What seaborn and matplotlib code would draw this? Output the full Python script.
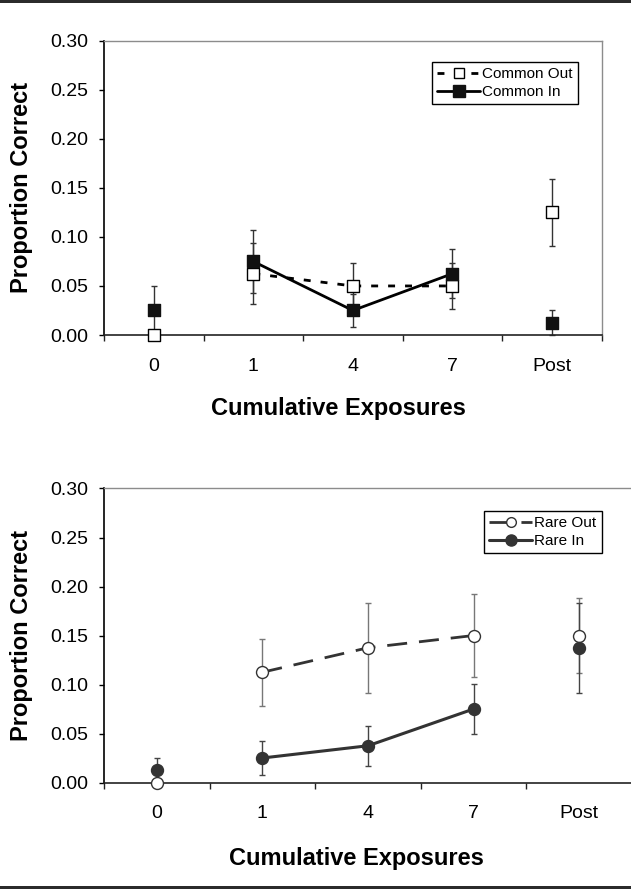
import numpy as np
import pandas as pd
import matplotlib
matplotlib.use("Agg")
import matplotlib.pyplot as plt
from matplotlib.lines import Line2D
from matplotlib.patches import Rectangle
from matplotlib.ticker import FixedLocator, FormatStrFormatter
import seaborn as sns

# Exposure conditions along the x axis
categories = ["0", "1", "4", "7", "Post"]
y_ticks = [0.00, 0.05, 0.10, 0.15, 0.20, 0.25, 0.30]

# Common words: proportion correct and error (+/-)
common_out = [0.000, 0.0625, 0.050, 0.050, 0.125]
common_out_err = [0.000, 0.031, 0.023, 0.023, 0.034]
common_in = [0.025, 0.075, 0.025, 0.0625, 0.0125]
common_in_err = [0.025, 0.032, 0.017, 0.025, 0.0125]

# Rare words: proportion correct and error (+/-)
rare_out = [0.000, 0.1125, 0.1375, 0.150, 0.150]
rare_out_err = [0.000, 0.034, 0.046, 0.042, 0.038]
rare_in = [0.0125, 0.025, 0.0375, 0.075, 0.1375]
rare_in_err = [0.012, 0.017, 0.0205, 0.026, 0.046]

# Only the training sessions (1, 4, 7) are joined by lines
connected = ["1", "4", "7"]

sns.set_theme(style="ticks")
plt.rcParams["font.family"] = ["Liberation Sans", "DejaVu Sans"]
plt.rcParams["text.color"] = "black"
plt.rcParams["axes.labelcolor"] = "black"
plt.rcParams["xtick.color"] = "black"
plt.rcParams["ytick.color"] = "black"

W, H = 631, 889
fig = plt.figure(figsize=(W / 100, H / 100), dpi=100)
ax_top = fig.add_axes([104 / W, (H - 335) / H, 497.7 / W, 294.3 / H])
ax_bot = fig.add_axes([104 / W, (H - 782.5) / H, 528 / W, 294 / H])


def series_frame(values, errors):
    df = pd.DataFrame({"cond": categories, "val": values, "err": errors})
    df["pos"] = np.arange(len(categories))
    return df


def draw_series(ax, values, errors, marker, face, edge, line_color, ls, lw,
                err_color, z):
    df = series_frame(values, errors)
    has_err = df["err"] > 0
    ax.errorbar(df.loc[has_err, "pos"], df.loc[has_err, "val"],
                yerr=df.loc[has_err, "err"], fmt="none", ecolor=err_color,
                elinewidth=1.0, capsize=2.2, capthick=1.0, zorder=2,
                clip_on=False)
    seg = df[df["cond"].isin(connected)]
    sns.lineplot(data=seg, x="pos", y="val", ax=ax, color=line_color,
                 linewidth=lw, linestyle=ls, sort=False, estimator=None,
                 errorbar=None, zorder=3, legend=False)
    sns.scatterplot(data=df, x="pos", y="val", ax=ax, marker=marker,
                    s=8.6 ** 2, color=face, edgecolor=edge, linewidth=1.0,
                    zorder=z, clip_on=False, legend=False)


def style_axes(ax):
    ax.set_xlim(-0.5, len(categories) - 0.5)
    ax.set_ylim(0, 0.30)
    ax.set_xticks(np.arange(len(categories)))
    ax.set_xticklabels(categories)
    ax.xaxis.set_minor_locator(FixedLocator(np.arange(len(categories) + 1) - 0.5))
    ax.set_yticks(y_ticks)
    ax.yaxis.set_major_formatter(FormatStrFormatter("%.2f"))
    ax.tick_params(axis="x", which="major", length=0, pad=16.5,
                   labelsize=14, colors="black")
    ax.tick_params(axis="x", which="minor", length=4.3, width=1.0,
                   direction="out", color="#222222", bottom=True)
    ax.tick_params(axis="y", which="major", length=3.5, width=1.0,
                   direction="out", pad=8, labelsize=14, colors="black")
    for side in ("top", "right"):
        ax.spines[side].set_visible(True)
        ax.spines[side].set_color("#8c8c8c")
        ax.spines[side].set_linewidth(1.0)
    ax.spines["left"].set_color("black")
    ax.spines["left"].set_linewidth(1.2)
    ax.spines["bottom"].set_color("#222222")
    ax.spines["bottom"].set_linewidth(1.2)
    ax.set_xlabel("Cumulative Exposures", fontsize=17, fontweight="bold",
                  va="top", color="black")
    ax.set_ylabel("Proportion Correct", fontsize=17, fontweight="bold",
                  color="black")
    ax.set_facecolor("white")


# Common words panel
draw_series(ax_top, common_out, common_out_err, "s", "white", "black",
            "black", (0, (2.5, 3.6)), 2.0, "#333333", 4)
draw_series(ax_top, common_in, common_in_err, "s", "#111111", "#111111",
            "black", "-", 2.0, "#333333", 5)
style_axes(ax_top)
ax_top.xaxis.set_label_coords(0.471, -0.212)
ax_top.yaxis.set_label_coords((33.5 - 104) / 497.7, 0.5)

top_handles = [
    Line2D([0], [0], color="black", lw=2.0, linestyle=(0, (2.5, 3.6)),
           marker="s", markersize=7, markerfacecolor="white",
           markeredgecolor="black", markeredgewidth=1.0),
    Line2D([0], [0], color="black", lw=2.0, linestyle="-", marker="s",
           markersize=8, markerfacecolor="#111111", markeredgecolor="#111111"),
]
leg = ax_top.legend(top_handles, ["Common Out", "Common In"],
                    loc="upper right", bbox_to_anchor=(0.953, 0.9287),
                    frameon=True, fancybox=False, edgecolor="black",
                    framealpha=1, fontsize=11, handlelength=2.8,
                    handletextpad=0.15, borderpad=0.35, labelspacing=0.25,
                    borderaxespad=0)
leg.get_frame().set_linewidth(1.0)

# Rare words panel
draw_series(ax_bot, rare_out, rare_out_err, "o", "white", "#333333",
            "#333333", (0, (7.2, 4.3)), 2.0, "#777777", 4)
draw_series(ax_bot, rare_in, rare_in_err, "o", "#333333", "#333333",
            "#333333", "-", 2.2, "#444444", 5)
style_axes(ax_bot)
ax_bot.xaxis.set_label_coords(0.479, -0.219)
ax_bot.yaxis.set_label_coords((33.5 - 104) / 528, 0.5)

bot_handles = [
    Line2D([0], [0], color="#333333", lw=2.0, linestyle=(0, (7.2, 4.3)),
           marker="o", markersize=7, markerfacecolor="white",
           markeredgecolor="#333333", markeredgewidth=1.0),
    Line2D([0], [0], color="#333333", lw=2.2, linestyle="-", marker="o",
           markersize=8, markerfacecolor="#333333", markeredgecolor="#333333"),
]
leg2 = ax_bot.legend(bot_handles, ["Rare Out", "Rare In"],
                     loc="upper right", bbox_to_anchor=(0.9426, 0.9245),
                     frameon=True, fancybox=False, edgecolor="black",
                     framealpha=1, fontsize=11, handlelength=2.8,
                     handletextpad=0.15, borderpad=0.35, labelspacing=0.25,
                     borderaxespad=0)
leg2.get_frame().set_linewidth(1.0)

# Dark rules across the top and bottom of the page
fig.add_artist(Rectangle((0, 1 - 2.7 / H), 1, 2.7 / H,
                         transform=fig.transFigure, color="#2b2b2b", lw=0))
fig.add_artist(Rectangle((0, 0), 1, 3.0 / H,
                         transform=fig.transFigure, color="#2b2b2b", lw=0))

fig.savefig("out.png", dpi=100, facecolor="white")
